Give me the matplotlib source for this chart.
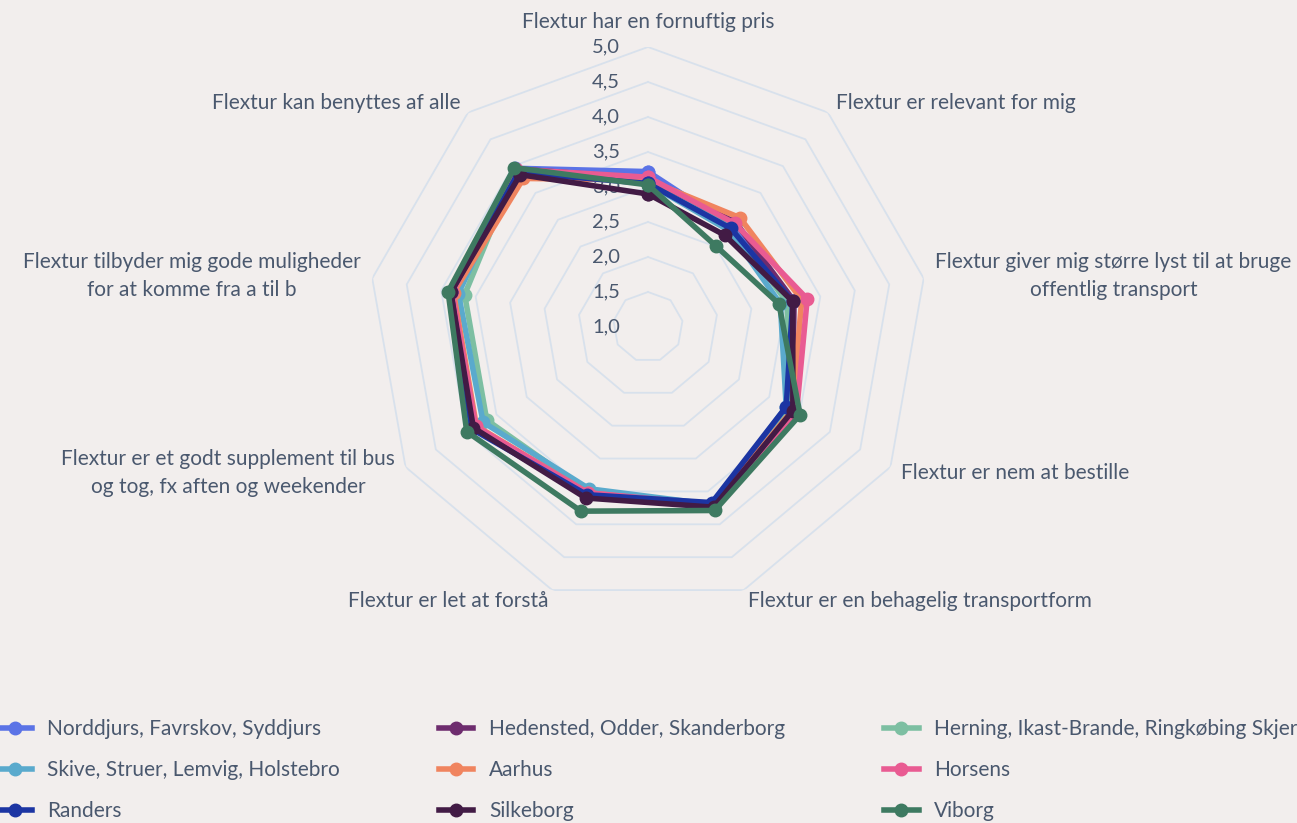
import numpy as np
import matplotlib
matplotlib.use("Agg")
import matplotlib.pyplot as plt

plt.rcParams['font.family'] = ['Lato', 'DejaVu Sans']

# Categories (clockwise from top)
categories = [
    "Flextur har en fornuftig pris",
    "Flextur er relevant for mig",
    "Flextur giver mig større lyst til at bruge\noffentlig transport",
    "Flextur er nem at bestille",
    "Flextur er en behagelig transportform",
    "Flextur er let at forstå",
    "Flextur er et godt supplement til bus\nog tog, fx aften og weekender",
    "Flextur tilbyder mig gode muligheder\nfor at komme fra a til b",
    "Flextur kan benyttes af alle",
]

series_names = [
    "Norddjurs, Favrskov, Syddjurs",
    "Hedensted, Odder, Skanderborg",
    "Herning, Ikast-Brande, Ringkøbing Skjern",
    "Skive, Struer, Lemvig, Holstebro",
    "Aarhus",
    "Horsens",
    "Randers",
    "Silkeborg",
    "Viborg",
]

norddjurs = [3.22, 2.87, 3.08, 3.35, 3.72, 3.52, 3.85, 3.85, 3.96]
hedensted = [3.12, 2.95, 3.12, 3.38, 3.72, 3.55, 3.86, 3.85, 3.95]
herning   = [3.05, 2.85, 3.02, 3.32, 3.70, 3.50, 3.66, 3.66, 3.93]
skive     = [3.05, 2.80, 2.92, 3.28, 3.70, 3.46, 3.72, 3.75, 3.93]
aarhus    = [3.10, 3.04, 3.23, 3.38, 3.72, 3.52, 3.83, 3.82, 3.77]
horsens   = [3.14, 2.93, 3.31, 3.45, 3.70, 3.52, 3.84, 3.84, 3.94]
randers   = [3.05, 2.84, 3.10, 3.28, 3.67, 3.55, 3.91, 3.86, 3.88]
silkeborg = [2.90, 2.71, 3.10, 3.39, 3.74, 3.60, 3.88, 3.86, 3.84]
viborg    = [3.03, 2.51, 2.90, 3.51, 3.79, 3.80, 3.99, 3.90, 3.97]

series_values = [norddjurs, hedensted, herning, skive, aarhus,
                 horsens, randers, silkeborg, viborg]
colors = ["#5B73E6", "#6E2C6E", "#7DBFA2", "#5AAACD", "#F0845F",
          "#E95B92", "#1C35A3", "#421B45", "#3E7A61"]

ring_values = [1.5, 2.0, 2.5, 3.0, 3.5, 4.0, 4.5, 5.0]
tick_labels = ["1,0", "1,5", "2,0", "2,5", "3,0", "3,5", "4,0", "4,5", "5,0"]
tick_values = [1.0, 1.5, 2.0, 2.5, 3.0, 3.5, 4.0, 4.5, 5.0]

bg = "#F2EEED"
txt = "#4A586E"
grid_col = "#D8E1EC"
fs = 15

n = len(categories)
theta = np.arange(n) * 2 * np.pi / n
theta_c = np.append(theta, theta[0])

fig = plt.figure(figsize=(12.97, 8.23), dpi=100)
fig.patch.set_facecolor(bg)
ax = fig.add_axes([0.2837, 0.2625, 0.4318, 0.6804], projection='polar')
ax.set_facecolor(bg)
ax.set_theta_zero_location('N')
ax.set_theta_direction(-1)
ax.set_ylim(1, 5)
ax.spines['polar'].set_visible(False)
ax.grid(False)
ax.set_xticks([])
ax.set_yticks([])

# polygon grid
for rv in ring_values:
    ax.plot(theta_c, [rv] * (n + 1), color=grid_col, lw=1.3, zorder=1)

# radial tick labels
for v, lab in zip(tick_values, tick_labels):
    ax.annotate(lab, xy=(0, v), xytext=(-28, 0), textcoords='offset pixels',
                ha='right', va='center', fontsize=14.5, color=txt, zorder=2)

# category labels
for th, lab in zip(theta, categories):
    s = np.sin(th)
    if abs(s) < 1e-6:
        ha, va, r = 'center', 'bottom', 5.22
    elif s > 0:
        ha, va, r = 'left', 'center', 5.17
    else:
        ha, va, r = 'right', 'center', 5.17
    ax.text(th, r, lab, ha=ha, va=va, fontsize=fs, color=txt,
            multialignment='center', linespacing=1.5)

handles = []
for name, vals, col in zip(series_names, series_values, colors):
    v = np.append(vals, vals[0])
    h, = ax.plot(theta_c, v, color=col, lw=4, marker='o', markersize=9,
                 label=name, zorder=3, solid_joinstyle='round')
    handles.append(h)

# legend is row-major in the reference; matplotlib fills column-major
order = [0, 3, 6, 1, 4, 7, 2, 5, 8]
leg = fig.legend([handles[i] for i in order], [series_names[i] for i in order],
                 ncol=3, loc='upper left', bbox_to_anchor=(-0.002, 0.126),
                 frameon=False, fontsize=fs, handlelength=1.65,
                 handletextpad=0.75, columnspacing=4.75, labelspacing=1.0,
                 borderpad=0, borderaxespad=0)
for t in leg.get_texts():
    t.set_color(txt)

fig.savefig("out.png", dpi=100, facecolor=bg)
